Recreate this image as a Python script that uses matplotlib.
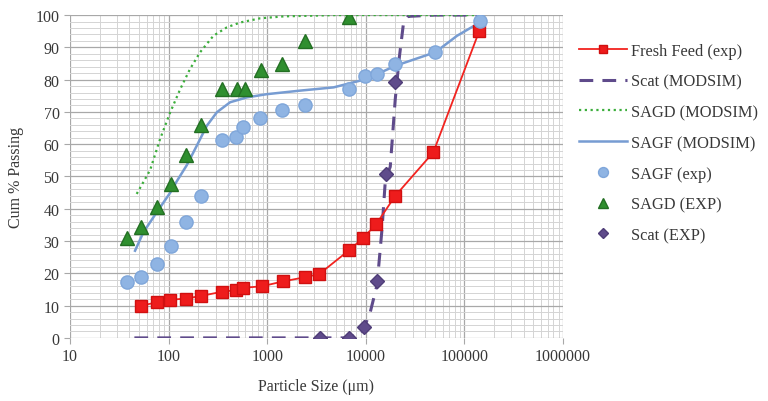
import matplotlib.pyplot as plt
import numpy as np
from matplotlib.ticker import FixedLocator, LogLocator, NullFormatter

# --- data ---
feed_x = [53, 76, 104, 151, 214, 349, 484, 570, 889, 1450, 2430, 3380, 6800, 9440, 12800, 19900, 48400, 142000]
feed_y = [10.0, 11.0, 11.8, 12.2, 13.0, 14.3, 14.8, 15.5, 16.0, 17.5, 18.8, 19.8, 27.2, 31.0, 35.3, 44.0, 57.5, 95.2]

scat_mod_x = [45, 300, 1000, 3000, 6000, 9000, 11100, 13000, 14600, 15800, 17700, 19900, 21900, 24000, 26900, 50000, 145000]
scat_mod_y = [0, 0, 0, 0, 0, 1.0, 8.0, 16.4, 33.7, 49.0, 53.0, 74.0, 87.0, 97.0, 99.6, 100, 100]

sagd_mod_x = [47.5, 65, 82, 104, 131, 165, 209, 285, 390, 532, 849, 1470, 5000, 20000, 145000]
sagd_mod_y = [44.6, 52.0, 61.6, 69.9, 77.0, 83.3, 88.5, 93.6, 96.2, 97.7, 99.0, 99.6, 100, 100, 100]

sagf_mod_x = [45.7, 55.5, 75.8, 104, 121, 153, 193, 244, 309, 421, 622, 993, 2160, 4710, 8790, 13000, 19950, 50800, 84300, 145000]
sagf_mod_y = [27.0, 32.7, 38.9, 45.0, 48.5, 53.5, 59.5, 65.7, 69.9, 73.0, 74.5, 75.5, 76.6, 77.6, 79.7, 81.7, 84.3, 88.5, 93.6, 97.8]

sagf_x = [38, 53, 76, 106, 150, 212, 347, 480, 570, 850, 1400, 2430, 6700, 9800, 12900, 19900, 50800, 145000]
sagf_y = [17.2, 19.0, 23.0, 28.6, 35.8, 43.9, 61.2, 62.2, 65.2, 68.0, 70.5, 72.0, 77.2, 81.0, 81.8, 84.7, 88.5, 98.2]

sagd_x = [38, 53, 76, 106, 150, 212, 347, 490, 600, 860, 1400, 2430, 6700]
sagd_y = [31.0, 34.3, 40.5, 47.8, 56.8, 66.0, 77.0, 77.2, 77.2, 83.0, 85.0, 92.0, 99.4]

scat_x = [3450, 6800, 9600, 13100, 16000, 19800]
scat_y = [0.0, 0.0, 3.3, 17.7, 50.8, 79.2]

plt.rcParams["font.family"] = ["Liberation Serif", "DejaVu Serif"]

fig = plt.figure(figsize=(7.68, 4.02), dpi=100)
ax = fig.add_axes([0.0911, 0.157, 0.642, 0.803])

ax.plot(feed_x, feed_y, color="#f2231f", lw=1.3, marker="s", ms=8.5,
        mfc="#ee1c1c", mec="#d01010", label="Fresh Feed (exp)", zorder=4)
ax.plot(scat_mod_x, scat_mod_y, color="#5f4b8b", lw=2.2, ls=(0, (4.5, 3)),
        label="Scat (MODSIM)", zorder=3)
ax.plot(sagd_mod_x, sagd_mod_y, color="#3cae3c", lw=1.6, ls=(0, (1, 1.6)),
        label="SAGD (MODSIM)", zorder=3)
ax.plot(sagf_mod_x, sagf_mod_y, color="#779cd2", lw=1.8,
        label="SAGF (MODSIM)", zorder=3)
ax.plot(sagf_x, sagf_y, ls="none", marker="o", ms=9.5, mfc="#8fb4e3",
        mec="#7fa6da", label="SAGF (exp)", zorder=5)
ax.plot(sagd_x, sagd_y, ls="none", marker="^", ms=10, mfc="#2f8f2f",
        mec="#236f23", label="SAGD (EXP)", zorder=5)
ax.plot(scat_x, scat_y, ls="none", marker="D", ms=7, mfc="#5f4b8b",
        mec="#4f3d78", label="Scat (EXP)", zorder=6)

ax.set_xscale("log")
ax.set_xlim(10, 1000000)
ax.set_ylim(0, 100)
ax.xaxis.set_major_locator(FixedLocator([10, 100, 1000, 10000, 100000, 1000000]))
ax.set_xticklabels(["10", "100", "1000", "10000", "100000", "1000000"])
ax.xaxis.set_minor_locator(LogLocator(base=10, subs=np.arange(2, 10)))
ax.xaxis.set_minor_formatter(NullFormatter())
ax.set_yticks(np.arange(0, 101, 10))
ax.set_yticks(np.arange(0, 101, 2), minor=True)

ax.grid(which="major", color="#a8a8a8", lw=0.9)
ax.grid(which="minor", color="#d4d4d4", lw=0.7)
ax.set_axisbelow(True)
for s in ax.spines.values():
    s.set_visible(False)
ax.tick_params(which="major", length=4, color="#a8a8a8", labelsize=11.5)
ax.tick_params(which="minor", length=0)
for lab in ax.get_xticklabels() + ax.get_yticklabels():
    lab.set_color("#383838")

ax.set_xlabel("Particle Size (\u03bcm)", fontsize=11.5, color="#383838", labelpad=10)
ax.set_ylabel("Cum % Passing", fontsize=11.5, color="#383838", labelpad=8)

fig.legend(loc="upper left", bbox_to_anchor=(0.735, 0.928), frameon=False,
           fontsize=11.8, handlelength=2.9, labelspacing=0.9, handletextpad=0.25,
           markerscale=0.75, labelcolor="#383838")

fig.savefig("out.png", dpi=100)
